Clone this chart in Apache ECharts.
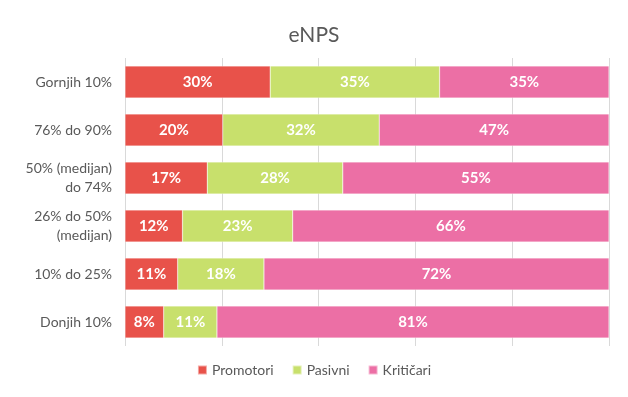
<!DOCTYPE html>
<html>
<head>
<meta charset="utf-8">
<script src="https://cdn.jsdelivr.net/npm/echarts@6/dist/echarts.min.js"></script>
<style>
  html, body { margin: 0; padding: 0; background: #fff; }
  #main { width: 628px; height: 397px; }
</style>
</head>
<body>
<div id="main"></div>
<script>
var categories = ['Gornjih 10%', '76% do 90%', '50% (medijan)\ndo 74%', '26% do 50%\n(medijan)', '10% do 25%', 'Donjih 10%'];
var promotori = [30, 20, 17, 12, 11, 8];
var pasivni = [35, 32, 28, 23, 18, 11];
var kriticari = [35, 47, 55, 66, 72, 81];

// 100% stacked: bar length is the share of the row total, label keeps the value
var totals = categories.map(function (c, i) {
    return promotori[i] + pasivni[i] + kriticari[i];
});
function share(arr) {
    return arr.map(function (v, i) {
        return { value: v / totals[i] * 100, raw: v };
    });
}

var font = 'Lato';
var myChart = echarts.init(document.getElementById('main'));

function makeSeries(name, data, color) {
    return {
        name: name,
        type: 'bar',
        stack: 'total',
        barWidth: 32,
        data: share(data),
        itemStyle: {
            color: color,
            borderColor: 'rgba(255,255,255,0.5)',
            borderWidth: 0.5
        },
        label: {
            show: true,
            position: 'inside',
            color: '#fff',
            fontFamily: font,
            fontWeight: 'bold',
            fontSize: 15,
            formatter: function (p) { return p.data.raw + '%'; }
        }
    };
}

option = {
    animation: false,
    title: {
        text: 'eNPS',
        left: 'center',
        top: 20,
        textStyle: {
            fontFamily: font,
            fontWeight: 'normal',
            fontSize: 21,
            color: '#595959'
        }
    },
    legend: {
        bottom: 15,
        left: 'center',
        itemWidth: 9,
        itemHeight: 9,
        itemGap: 18,
        icon: 'rect',
        textStyle: {
            fontFamily: font,
            fontSize: 14,
            color: '#595959'
        },
        data: ['Promotori', 'Pasivni', 'Kritičari']
    },
    grid: {
        left: 125,
        right: 19,
        top: 58,
        bottom: 51
    },
    xAxis: {
        type: 'value',
        min: 0,
        max: 100,
        interval: 20,
        axisLabel: { show: false },
        axisLine: { show: false },
        axisTick: { show: false },
        splitLine: {
            show: true,
            lineStyle: { color: '#d9d9d9', width: 1 }
        }
    },
    yAxis: {
        type: 'category',
        inverse: true,
        data: categories,
        axisLine: { show: false },
        axisTick: { show: false },
        axisLabel: {
            margin: 13,
            fontFamily: font,
            fontSize: 14,
            lineHeight: 19,
            color: '#595959',
            align: 'right'
        }
    },
    series: [
        makeSeries('Promotori', promotori, '#e8524a'),
        makeSeries('Pasivni', pasivni, '#c8e06c'),
        makeSeries('Kritičari', kriticari, '#ec6fa5')
    ]
};
myChart.setOption(option);
</script>
</body>
</html>
